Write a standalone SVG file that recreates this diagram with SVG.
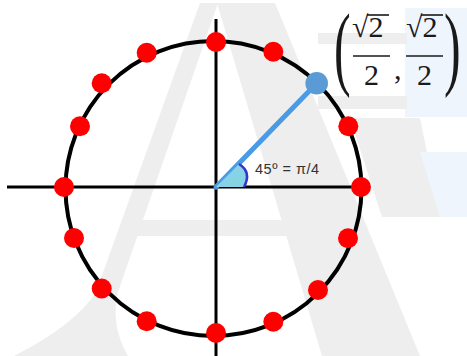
<svg xmlns="http://www.w3.org/2000/svg" width="467" height="356" viewBox="0 0 467 356">
<defs>
<style>
.wm{fill:#eeeeee}
.wb{fill:#eff5fc}
.ax{stroke:#000;stroke-width:3;fill:none}
.dot{fill:#ff0000}
.m{font-family:"Liberation Serif","DejaVu Serif",serif;fill:#1a1a1a}
.bar{stroke:#1a1a1a;stroke-width:1.6}
</style>
</defs>
<rect width="467" height="356" fill="#fff"/>
<g id="watermark">
<path class="wm" d="M200,3 L218,3 L118,292 Q110,325 128,356 L14,356 Q75,325 96,292 Z"/>
<path class="wm" d="M217,3 L275,3 L420,356 L322,356 Z"/>
<polygon class="wm" points="135,220 286,220 291,236 130,236"/>
<polygon class="wm" points="350,118 420,118 440,217 382,217"/>
<rect class="wb" x="405" y="8" width="62" height="109"/>
<polygon class="wb" points="420,152 467,152 467,217 440,217"/>
<rect class="wm" x="318" y="33" width="89" height="11"/>
<rect class="wm" x="318" y="96" width="89" height="13"/>
</g>
<g id="connectors">
<line class="ax" x1="7" y1="187" x2="364" y2="187"/>
<line class="ax" x1="216" y1="19" x2="216" y2="356"/>
<line x1="216" y1="187" x2="317" y2="83" stroke="#4a9be6" stroke-width="5" stroke-linecap="round"/>
</g>
<g id="circle">
<ellipse cx="213.5" cy="188.5" rx="148" ry="147.5" fill="none" stroke="#000" stroke-width="4"/>
</g>
<g id="angle">
<path d="M216,187 L239,164 Q252,172 244,187 Z" fill="#86d3e6"/>
<path d="M239,164 Q252,172 244,187" fill="none" stroke="#3535c8" stroke-width="2.5"/>
</g>
<g id="points">
<circle class="dot" cx="216" cy="42" r="10"/>
<circle class="dot" cx="273.3" cy="51.7" r="10"/>
<circle class="dot" cx="348.3" cy="126.3" r="10"/>
<circle class="dot" cx="361" cy="187" r="10"/>
<circle class="dot" cx="348" cy="238.3" r="10"/>
<circle class="dot" cx="318" cy="290" r="10"/>
<circle class="dot" cx="273.3" cy="321.7" r="10"/>
<circle class="dot" cx="216" cy="333" r="10"/>
<circle class="dot" cx="146.7" cy="321.3" r="10"/>
<circle class="dot" cx="101.7" cy="288.5" r="10"/>
<circle class="dot" cx="74" cy="238" r="10"/>
<circle class="dot" cx="64" cy="187" r="10"/>
<circle class="dot" cx="80" cy="126.3" r="10"/>
<circle class="dot" cx="101.7" cy="83.3" r="10"/>
<circle class="dot" cx="146.7" cy="52.8" r="10"/>
</g>
<g id="point-45">
<circle cx="316.7" cy="83.3" r="11.3" fill="#5b9bd5"/>
</g>
<g id="angle-label">
<text x="255" y="174" font-family="'Liberation Sans','DejaVu Sans',sans-serif" font-size="14.5" fill="#333" textLength="64">45º = π/4</text>
</g>
<g id="coordinates">
<g transform="translate(334,78) scale(1,1.87)"><text class="m" x="0" y="0" font-size="50">(</text></g>
<g transform="translate(444,78) scale(1,1.87)"><text class="m" x="0" y="0" font-size="50">)</text></g>
<text class="m" x="352" y="37" font-size="30">√2</text>
<line class="bar" x1="367" y1="15" x2="389" y2="15"/>
<line class="bar" x1="353" y1="56" x2="390" y2="56"/>
<text class="m" x="371.5" y="85" font-size="30" text-anchor="middle">2</text>
<text class="m" x="394" y="79" font-size="30">,</text>
<text class="m" x="406" y="37" font-size="30">√2</text>
<line class="bar" x1="421" y1="15" x2="443" y2="15"/>
<line class="bar" x1="406" y1="56" x2="443" y2="56"/>
<text class="m" x="424.5" y="85" font-size="30" text-anchor="middle">2</text>
</g>
</svg>
